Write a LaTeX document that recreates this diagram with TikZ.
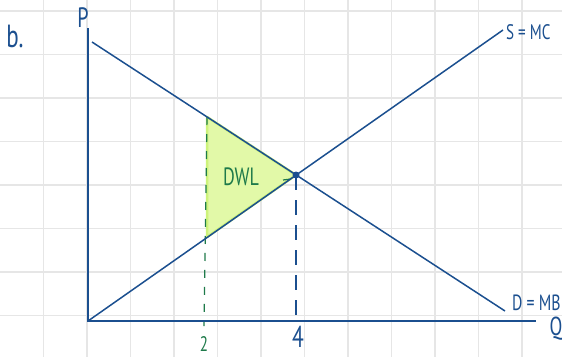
\documentclass[tikz,border=0pt]{standalone}
\usepackage{fontspec}
\setmainfont{PT Sans}
\definecolor{ink}{HTML}{1B4F8F}
\definecolor{pen}{HTML}{1E7A4A}
\definecolor{hl}{HTML}{E2F9A8}
\definecolor{hledge}{HTML}{CDF37A}
\definecolor{gridc}{HTML}{E6E6E6}

\begin{document}
\begin{tikzpicture}[x=1pt,y=-1pt,
  hand/.style={inner sep=0pt,xscale=0.72},
  curve/.style={ink,line width=1.5pt}]
\useasboundingbox (0,0) rectangle (562,357);
% squared paper
\foreach \k in {0,...,11} \draw[gridc,line width=1.4pt] ({43.5+43.5*\k},0) -- ++(0,357);
\foreach \k in {0,...,7} \draw[gridc,line width=1.4pt] (0,{11+43.5*\k}) -- ++(562,0);
\coordinate (O) at (88,321);
\coordinate (Ptop) at (88,28);
\coordinate (Qend) at (536,321);
\coordinate (D1) at (92,42);
\coordinate (D2) at (505,311);
\coordinate (S2) at (503,30);
\coordinate (E) at (296,175);
\coordinate (H) at (207,117);
\coordinate (L) at (207,237);
% deadweight loss
\fill[hl,draw=hledge,line width=2.5pt,line join=round] (H) -- (E) -- (L) -- cycle;
\coordinate (G) at (204,326);
\coordinate (F) at (296,318);
\draw[pen,line width=1.2pt,dash pattern=on 8pt off 9pt] (H) -- (G);
\draw[ink,line width=1.2pt,dash pattern=on 15pt off 10pt] (E) -- (F);
\coordinate (T1) at (283,180);\coordinate (T2) at (291,179);
\draw[pen,line width=1.2pt] (T1) -- (T2);
\draw[curve] (D1) -- (D2);
\draw[curve] (O) -- (S2);
\draw[ink,line width=1.8pt] (Ptop) -- (O) -- (Qend);
\fill[ink] (E) circle (3.5pt);
% labels
\node[hand,ink,font=\fontsize{32}{32}\selectfont] (part) at (15,36) {b.};
\node[hand,ink,font=\fontsize{28}{28}\selectfont] (plab) at (83,18) {P};
\node[hand,ink,font=\fontsize{26}{26}\selectfont] (qlab) at (556,329) {Q};
\node[hand,ink,anchor=west,font=\fontsize{21}{21}\selectfont] (slab) at (506,32) {S = MC};
\node[hand,ink,anchor=west,font=\fontsize{22}{22}\selectfont] (dlab) at (512,303) {D = MB};
\node[hand,pen,font=\fontsize{25}{25}\selectfont] (dwl) at (241,177) {DWL};
\node[hand,pen,font=\fontsize{21}{21}\selectfont] (two) at (204,344) {2};
\node[hand,ink,font=\fontsize{30}{30}\selectfont] (four) at (298,337) {4};
\end{tikzpicture}
\end{document}
